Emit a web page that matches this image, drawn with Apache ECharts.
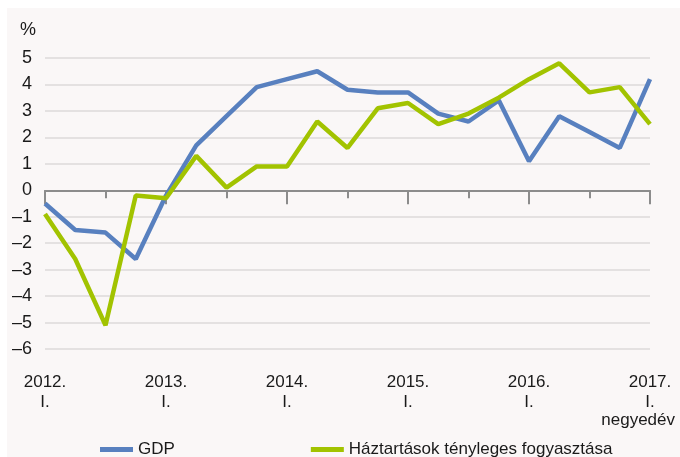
<!DOCTYPE html>
<html>
<head>
<meta charset="utf-8">
<script src="https://cdn.jsdelivr.net/npm/echarts@6/dist/echarts.min.js"></script>
<style>
  html, body { margin: 0; padding: 0; background: #ffffff; }
  #chart-container { width: 680px; height: 457px; }
</style>
</head>
<body>
<div id="chart-container"></div>
<script>
var dom = document.getElementById("chart-container");
var myChart = echarts.init(dom, null, { renderer: "canvas" });

var FONT = '"Liberation Sans", Arial, sans-serif';

// quarters 2012 Q1 .. 2017 Q1
var quarters = [
  "2012.\nI.", "II.", "III.", "IV.",
  "2013.\nI.", "II.", "III.", "IV.",
  "2014.\nI.", "II.", "III.", "IV.",
  "2015.\nI.", "II.", "III.", "IV.",
  "2016.\nI.", "II.", "III.", "IV.",
  "2017.\nI."
];
var gdp = [-0.5, -1.5, -1.6, -2.6, -0.2, 1.7, 2.8, 3.9, 4.2, 4.5, 3.8, 3.7, 3.7, 2.9, 2.6, 3.4, 1.1, 2.8, 2.2, 1.6, 4.2];
var consumption = [-0.9, -2.6, -5.1, -0.2, -0.3, 1.3, 0.1, 0.9, 0.9, 2.6, 1.6, 3.1, 3.3, 2.5, 2.9, 3.5, 4.2, 4.8, 3.7, 3.9, 2.5];
var seriesNames = ["GDP", "Háztartások tényleges fogyasztása"];

var AXIS_GRAY = "#8c8c8c";

var option = {
  backgroundColor: "#ffffff",
  animation: false,
  textStyle: { fontFamily: FONT },
  graphic: [
    { type: "rect", left: 7, top: 8, shape: { width: 673, height: 449 }, style: { fill: "#faf7f7" }, z: -10 },
    { type: "text", x: 36, y: 30, style: { text: "%", fontSize: 18, fontFamily: FONT, fill: "#1a1a1a", align: "right", verticalAlign: "middle" } },
    { type: "text", x: 675, y: 420, style: { text: "negyedév", fontSize: 17, fontFamily: FONT, fill: "#1a1a1a", align: "right", verticalAlign: "middle" } }
  ],
  grid: { left: 45, right: 30, top: 58, bottom: 108, outerBoundsMode: "none", containLabel: false },
  legend: {
    left: 100,
    top: 441,
    padding: 0,
    icon: "rect",
    itemWidth: 33,
    itemHeight: 5,
    itemGap: 136,
    textStyle: { fontSize: 17, fontFamily: FONT, color: "#1a1a1a" },
    data: seriesNames
  },
  xAxis: [
    {
      // axis line and quarter ticks on the zero line
      type: "category",
      data: quarters,
      boundaryGap: false,
      position: "bottom",
      axisLine: { onZero: true, onZeroAxisIndex: 0, lineStyle: { color: AXIS_GRAY, width: 2 } },
      axisTick: { length: 8, lineStyle: { color: AXIS_GRAY, width: 2 } },
      axisLabel: { show: false },
      splitLine: { show: false }
    },
    {
      // longer ticks at the first quarter of each year
      type: "category",
      data: quarters,
      boundaryGap: false,
      position: "bottom",
      axisLine: { show: false, onZero: true, onZeroAxisIndex: 1 },
      axisTick: { interval: 3, length: 14, lineStyle: { color: AXIS_GRAY, width: 2 } },
      axisLabel: { show: false },
      splitLine: { show: false }
    },
    {
      // year labels under the plot
      type: "category",
      data: quarters,
      boundaryGap: false,
      position: "bottom",
      axisLine: { show: false, onZero: false },
      axisTick: { show: false },
      axisLabel: {
        interval: 3,
        margin: 23,
        fontSize: 17,
        lineHeight: 20,
        fontFamily: FONT,
        color: "#1a1a1a"
      },
      splitLine: { show: false }
    }
  ],
  yAxis: [
    {
      type: "value",
      min: -6,
      max: 5,
      interval: 1,
      axisLine: { show: false },
      axisTick: { show: false },
      axisLabel: {
        margin: 13,
        fontSize: 18,
        fontFamily: FONT,
        color: "#1a1a1a",
        formatter: function (v) { return v < 0 ? "\u2013" + Math.abs(v) : String(v); }
      },
      splitLine: { lineStyle: { color: "#dcdada", width: 1.5 } }
    },
    {
      type: "value",
      min: -6,
      max: 5,
      interval: 1,
      position: "right",
      axisLine: { show: false },
      axisTick: { show: false },
      axisLabel: { show: false },
      splitLine: { show: false }
    }
  ],
  series: [
    {
      name: seriesNames[0],
      type: "line",
      data: gdp,
      symbol: "none",
      color: "#5880bf",
      lineStyle: { width: 4.5, color: "#5880bf" }
    },
    {
      name: seriesNames[1],
      type: "line",
      data: consumption,
      symbol: "none",
      color: "#a2c300",
      lineStyle: { width: 4.5, color: "#a2c300" }
    }
  ]
};

myChart.setOption(option);
window.addEventListener("resize", myChart.resize);
</script>
</body>
</html>
